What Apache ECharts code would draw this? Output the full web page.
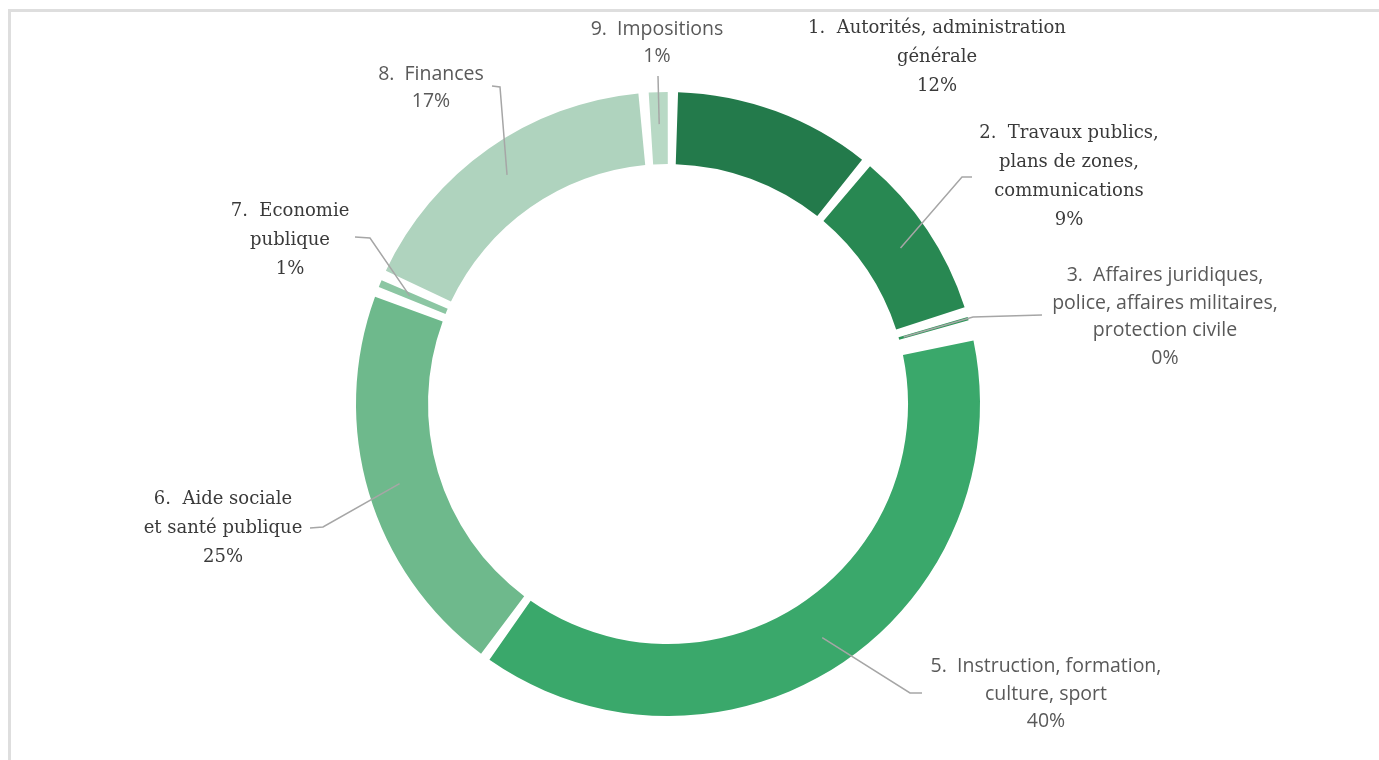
<!DOCTYPE html>
<html>
<head>
<meta charset="utf-8">
<title>Répartition des charges par fonction</title>
<script src="https://cdn.jsdelivr.net/npm/echarts@6/dist/echarts.min.js"></script>
<style>
  html, body { margin: 0; padding: 0; background: #fff; overflow: hidden; }
  #frame {
    position: absolute; left: 8px; top: 9px; width: 1500px; height: 900px;
    border-left: 3px solid #dedede; border-top: 3px solid #dedede;
  }
  #chart { position: absolute; left: 0; top: 0; width: 1379px; height: 760px; }
</style>
</head>
<body>
<div id="frame"></div>
<div id="chart"></div>
<script>
// categories (label text, with the line breaks of the original)
const categories = [
  "1.  Autorités, administration\ngénérale",
  "2.  Travaux publics,\nplans de zones,\ncommunications",
  "3.  Affaires juridiques,\npolice, affaires militaires,\nprotection civile",
  "4.", // label removed in the original
  "5.  Instruction, formation,\nculture, sport",
  "6.  Aide sociale\net santé publique",
  "7.  Economie\npublique",
  "8.  Finances",
  "9.  Impositions"
];
// slice sizes as read from the ring (share of the circle, %)
const shares = [10.7, 9.3, 0.7, 0.5, 38.5, 20.9, 0.9, 17.0, 1.5];
// percentages printed in the labels
const shownPercents = ["12%", "9%", "0%", "", "40%", "25%", "1%", "17%", "1%"];
const colors = ["#237a4b", "#288852", "#2e9659", "#34a060", "#3aa86b",
                "#6eb98c", "#8cc6a3", "#afd3be", "#b8d9c5"];

const CX = 668, CY = 404;
const serif = "DejaVu Serif";
const sans = "Open Sans";
// label block centre, font, guide line (bend, end, start radius)
const labelSetup = [
  { pos: [937, 57], font: serif, line: null },
  { pos: [1069, 177], font: serif, line: { bend: [962, 177], end: [972, 177], r: 280 } },
  { pos: [1165, 317], font: sans, line: { bend: [973, 317], end: [1042, 315], r: 245 } },
  null,
  { pos: [1046, 694], font: sans, line: { bend: [910, 693], end: [922, 693], r: 280 } },
  { pos: [223, 528], font: serif, line: { bend: [323, 527], end: [310, 528], r: 280 } },
  { pos: [290, 240], font: serif, line: { bend: [370, 238], end: [355, 237], r: 280 } },
  { pos: [431, 88], font: sans, line: { bend: [500, 87], end: [492, 86], r: 280 } },
  { pos: [657, 43], font: sans, line: { bend: [658, 76], end: [658, 76], r: 280 } }
];

// mid angles of the slices, used only as fallback for the guide lines
function midAngle(i) {
  const total = shares.reduce((a, b) => a + b, 0);
  let acc = -0.9 / 360 * total;
  for (let k = 0; k < i; k++) acc += shares[k];
  return (acc + shares[i] / 2) / total * Math.PI * 2;
}

const chart = echarts.init(document.getElementById("chart"));

const ring = {
  type: "pie",
  center: [CX, CY],
  radius: [240, 312],
  startAngle: 89.1,
  padAngle: 1.9,
  avoidLabelOverlap: false
};

// ring slices
const sliceData = categories.map((name, i) => ({
  name: name,
  value: shares[i],
  itemStyle: { color: colors[i] }
}));

// same ring, transparent, on top: carries labels so the guide lines
// are drawn over the coloured slices
const labelData = categories.map((name, i) => {
  const s = labelSetup[i];
  return {
    name: name,
    value: shares[i],
    label: s ? {
      show: true,
      fontFamily: s.font,
      fontSize: s.font === serif ? 18 : 19.5,
      lineHeight: s.font === serif ? 29 : 27.5,
      color: s.font === serif ? "#3a3a3a" : "#595959"
    } : { show: false },
    labelLine: { show: !!(s && s.line) }
  };
});

chart.setOption({
  animation: false,
  series: [
    Object.assign({}, ring, {
      z: 2,
      label: { show: false },
      labelLine: { show: false },
      data: sliceData
    }),
    Object.assign({}, ring, {
      z: 3,
      silent: true,
      itemStyle: { color: "rgba(0,0,0,0)" },
      label: {
        show: true,
        position: "outside",
        align: "center",
        formatter: p => categories[p.dataIndex] + "\n" + shownPercents[p.dataIndex]
      },
      labelLine: {
        show: true,
        showAbove: true,
        lineStyle: { color: "#a6a6a6", width: 1.5 }
      },
      labelLayout: function (params) {
        const s = labelSetup[params.dataIndex];
        if (!s) return {};
        const res = { x: s.pos[0], y: s.pos[1], align: "center", verticalAlign: "middle" };
        if (s.line) {
          let dx, dy;
          const p0 = params.labelLinePoints && params.labelLinePoints[0];
          if (p0) {
            dx = p0[0] - CX; dy = p0[1] - CY;
          } else {
            const a = midAngle(params.dataIndex);
            dx = Math.sin(a); dy = -Math.cos(a);
          }
          const len = Math.hypot(dx, dy) || 1;
          const start = [CX + dx / len * s.line.r, CY + dy / len * s.line.r];
          res.labelLinePoints = [start, s.line.bend, s.line.end];
        }
        return res;
      },
      data: labelData
    })
  ]
});
</script>
</body>
</html>
